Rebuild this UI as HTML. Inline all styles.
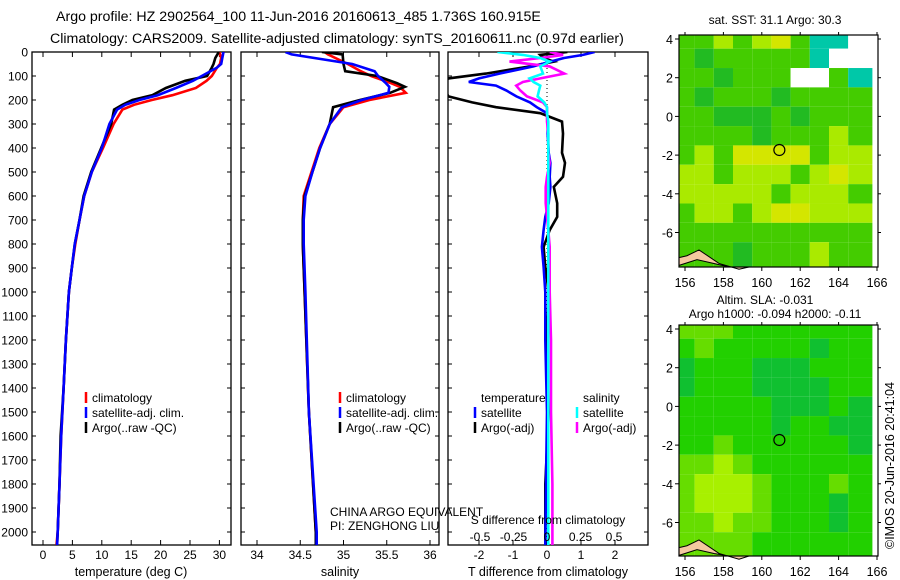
<!DOCTYPE html>
<html><head><meta charset="utf-8"><style>
body{margin:0;background:#fff;}
svg{display:block;font-family:"Liberation Sans",sans-serif;}
text{fill:#000;}
</style></head><body>
<svg id="fig" width="900" height="580" viewBox="0 0 900 580" xmlns="http://www.w3.org/2000/svg">
<rect width="900" height="580" fill="#fff"/>
<text x="56" y="21" font-size="14.2">Argo profile: HZ 2902564_100 11-Jun-2016 20160613_485 1.736S 160.915E</text>
<text x="50" y="43" font-size="14.2">Climatology: CARS2009. Satellite-adjusted climatology: synTS_20160611.nc (0.97d earlier)</text>
<defs>
<clipPath id="c1"><rect x="32" y="52" width="199" height="493"/></clipPath>
<clipPath id="c2"><rect x="241" y="52" width="198" height="493"/></clipPath>
<clipPath id="c3"><rect x="448" y="52" width="200" height="493"/></clipPath>
</defs>
<g id="p1"></g>
<g id="p2"></g>
<g id="p3"></g>
<g id="m1"></g>
<g id="m2"></g>
<text transform="translate(894,549) rotate(-90)" font-size="12.5">©IMOS 20-Jun-2016 20:41:04</text>
</svg>
<script>
// ---- data ----
const tDepth=[0,25,50,65,100,120,150,180,200,220,240,300,400,500,600,700,800,900,1000,1200,1400,1600,1800,2000,2054];
const tArgo=[29.9,29.3,29.0,28.7,27.9,24.2,20.9,18.6,15.2,13.5,12.1,11.6,9.9,8.2,6.9,6.2,5.4,4.9,4.4,3.9,3.5,3.0,2.8,2.5,2.4];
const tClim=[30.0,30.3,30.1,29.6,28.7,27.8,26.0,22.0,18.5,15.5,13.5,12.0,10.2,8.3,7.0,6.2,5.5,4.9,4.4,3.9,3.5,3.1,2.8,2.5,2.3];
const tSat=[30.7,30.5,30.3,29.6,27.0,25.5,22.6,19.5,16.4,14.0,12.6,11.3,10.0,8.3,7.0,6.2,5.4,4.9,4.4,3.9,3.5,3.1,2.8,2.5,2.4];
const sDepth=[0,10,50,80,100,130,145,170,200,230,300,400,500,600,700,800,1000,1500,2000,2054];
const sArgo=[34.75,34.99,35.0,35.02,35.39,35.62,35.71,35.54,35.19,34.88,34.84,34.73,34.64,34.55,34.53,34.53,34.55,34.6,34.68,34.68];
const sSat=[34.33,34.4,35.1,35.36,35.4,35.49,35.53,35.52,35.21,34.98,34.84,34.73,34.64,34.56,34.54,34.54,34.56,34.6,34.69,34.69];
const sClim=[34.78,34.82,35.05,35.2,35.32,35.55,35.65,35.72,35.3,35.0,34.84,34.72,34.63,34.54,34.53,34.53,34.55,34.6,34.68,34.68];
const dDepth=[0,12,25,40,60,90,110,125,140,160,185,210,230,255,290,340,420,462,520,562,630,687,742,812,895,1000,1200,1500,1800,2054];
const dTArgo=[0.6,-0.2,-0.1,0.2,-0.5,-1.8,-2.9,-3,-3,-3,-2.9,-2.2,-1.5,-0.2,0.44,0.47,0.44,0.53,0.47,0.2,0.3,0.3,0.08,-0.1,-0.05,0.05,0,0.05,-0.05,-0.05];
const dTSat=[1.4,1.06,0.5,0.1,-0.4,-1.4,-2.0,-2.3,-1.5,-1.2,-0.9,-0.5,-0.3,0,0.02,0.02,0.05,0.1,0.08,0.1,0.05,-0.05,-0.1,-0.15,-0.1,-0.05,-0.05,0,-0.03,-0.05];
const dSArgo=[0.02,0.12,-0.05,-0.28,0.02,0.13,-0.05,-0.18,-0.23,-0.2,-0.15,-0.03,0,0,0,0.01,0.01,0.02,0,-0.01,-0.01,0,0.01,0.02,0.02,0.02,0.03,0.03,0.04,0.04];
const dSSat=[-0.37,-0.18,-0.05,0.02,-0.05,-0.03,-0.13,-0.1,-0.05,-0.06,-0.07,-0.02,0,0,0.01,0.01,0.01,0.01,0.01,0.01,0.01,0.01,0.01,0.01,0.01,0.01,0.01,0.01,0.01,0.01];
const depthTicks=[0,100,200,300,400,500,600,700,800,900,1000,1100,1200,1300,1400,1500,1600,1700,1800,1900,2000];
const tTicks=[0,5,10,15,20,25,30];
const sTicks=[34,34.5,35,35.5,36];
const sTickLabels=["34","34.5","35","35.5","36"];
const dTTicks=[-2,-1,0,1,2];
const dSTicks=[-0.5,-0.25,0,0.25,0.5];
const dSTickLabels=["-0.5","-0.25","0","0.25","0.5"];
const lonTicks=[156,158,160,162,164,166];
const latTicks=[4,2,0,-2,-4,-6];
const sstRows=["ggygyYgccw","gdgggggcww","ggdgggwwgc","gdgggdgggg","ggdddgdggg","ggggdgggyg","gygYYYYgyy","yygyyygyYy","yyyyygyyyg","gyygyYYyyy","gggggggggg","gggdgggygg"];
const slaRows=["LLLGGGGGGG","GLGGGGGDGG","DGGGDDDGGG","DGGGDDDDGG","GGGGGDDDGD","GGGGGDGGDD","GGLGGGGGGD","LLYLGGGGGG","LYYYLGGGLG","LYYYLGGGDG","LLYLLGGGDG","LLLLGGGGGG"];
const argoLon=160.915, argoLat=-1.736;

// ---- helpers ----
const NS="http://www.w3.org/2000/svg";
function mk(parent,tag,attrs,txt){const e=document.createElementNS(NS,tag);for(const k in attrs)e.setAttribute(k,attrs[k]);if(txt!==undefined)e.textContent=txt;parent.appendChild(e);return e;}
const yD=d=>52+d*0.24;
const xT=t=>43+t*5.88;
const xS=s=>257+(s-34)*86.5;
const xDT=d=>547+d*34;
const xDS=s=>547+s*134;

function frame(g,x0,x1,xt,labels,ly,name){
  const r=mk(g,'rect',{x:x0,y:52,width:x1-x0,height:493,fill:'none',stroke:'#000','stroke-width':1.3});
  
  
  xt.forEach((v,i)=>{
    mk(g,'line',{x1:v,x2:v,y1:545,y2:540,stroke:'#000'});
    mk(g,'line',{x1:v,x2:v,y1:52,y2:57,stroke:'#000'});
    if(labels){const t=mk(g,'text',{x:v,y:ly,'font-size':12,'text-anchor':'middle'},labels[i]);
      
      }
  });
  depthTicks.forEach(d=>{mk(g,'line',{x1:x0,x2:x0+4,y1:yD(d),y2:yD(d),stroke:'#000'});mk(g,'line',{x1:x1,x2:x1-4,y1:yD(d),y2:yD(d),stroke:'#000'});});
}
function line(g,xs,ds,fx,color,clip,name){
  const pts=xs.map((v,i)=>fx(v).toFixed(1)+','+yD(ds[i]).toFixed(1)).join(' ');
  const p=mk(g,'polyline',{points:pts,fill:'none',stroke:color,'stroke-width':2.6,'clip-path':'url(#'+clip+')'});
  
  
}
function legend(g,x,y,items){
  items.forEach((it,i)=>{
    mk(g,'line',{x1:x,x2:x,y1:y+i*15-10,y2:y+i*15+1,stroke:it[1],'stroke-width':2.5});
    const t=mk(g,'text',{x:x+6,y:y+i*15,'font-size':12},it[0]);
    
    
  });
}

// depth axis labels
const p1=document.getElementById('p1');
depthTicks.forEach(d=>{const t=mk(p1,'text',{x:28,y:yD(d)+4.5,'font-size':12,'text-anchor':'end'},String(d));
  
  });

// panel 1
frame(p1,32,231,tTicks.map(xT),tTicks.map(String),559,'temperature');
line(p1,tClim,tDepth,xT,'#f00','c1','temp-climatology-line');
line(p1,tArgo,tDepth,xT,'#000','c1','temp-argo-line');
line(p1,tSat,tDepth,xT,'#00f','c1','temp-satellite-line');
legend(p1,86,402,[['climatology','#f00'],['satellite-adj. clim.','#00f'],['Argo(..raw -QC)','#000']]);
{const t=mk(p1,'text',{x:131,y:576,'font-size':12.5,'text-anchor':'middle'},'temperature (deg C)');}

// panel 2
const p2=document.getElementById('p2');
frame(p2,241,439,sTicks.map(xS),sTickLabels,559,'salinity');
line(p2,sClim,sDepth,xS,'#f00','c2','sal-climatology-line');
line(p2,sArgo,sDepth,xS,'#000','c2','sal-argo-line');
line(p2,sSat,sDepth,xS,'#00f','c2','sal-satellite-line');
legend(p2,340,402,[['climatology','#f00'],['satellite-adj. clim.','#00f'],['Argo(..raw -QC)','#000']]);
{const t=mk(p2,'text',{x:340,y:576,'font-size':12.5,'text-anchor':'middle'},'salinity');}
{const t=mk(p2,'text',{x:330,y:516,'font-size':12},'CHINA ARGO EQUIVALENT');}
{const t=mk(p2,'text',{x:330,y:530,'font-size':12},'PI: ZENGHONG LIU');}

// panel 3
const p3=document.getElementById('p3');
frame(p3,448,648,dTTicks.map(xDT),dTTicks.map(String),559,'t-difference');
mk(p3,'line',{x1:xDT(0),x2:xDT(0),y1:52,y2:545,stroke:'#000','stroke-dasharray':'1,3','stroke-width':1});
line(p3,dTArgo,dDepth,xDT,'#000','c3','tdiff-argo-line');
line(p3,dTSat,dDepth,xDT,'#00f','c3','tdiff-satellite-line');
line(p3,dSArgo,dDepth,xDS,'#f0f','c3','sdiff-argo-line');
line(p3,dSSat,dDepth,xDS,'#0ff','c3','sdiff-satellite-line');
{const t=mk(p3,'text',{x:481,y:402,'font-size':12},'temperature');}
{const t=mk(p3,'text',{x:583,y:402,'font-size':12},'salinity');}
legend(p3,475,417,[['satellite','#00f'],['Argo(-adj)','#000']]);
legend(p3,577,417,[['satellite','#0ff'],['Argo(-adj)','#f0f']]);
{const t=mk(p3,'text',{x:548,y:524,'font-size':12,'text-anchor':'middle'},'S difference from climatology');}
dSTicks.forEach((v,i)=>{const t=mk(p3,'text',{x:xDS(v),y:541,'font-size':12,'text-anchor':'middle'},dSTickLabels[i]);
  
  });
{const t=mk(p3,'text',{x:548,y:576,'font-size':12.5,'text-anchor':'middle'},'T difference from climatology');}

// maps
const sstCol={g:'#44cc00',d:'#22bb22',y:'#aaea00',Y:'#d4e600',c:'#00c8a8',w:'#ffffff'};
const slaCol={G:'#22d000',D:'#10c030',L:'#66dd00',Y:'#a8f000'};
function map(g,top,bot,rows,cols,title,titleY,name){
  const L=679,R=878;
  const lx=v=>685+(v-156)*19.2;
  const ly=v=>top+4+(4-v)*19.35;
  rows.forEach((row,ri)=>{
    [...row].forEach((ch,ci)=>{
      const x0=Math.max(L,lx(155.5+ci)),x1=Math.min(R,lx(156.5+ci)+(ci==9?5:0));
      const y0=Math.max(top,ly(4.5-ri)),y1=Math.min(bot,ly(3.5-ri)+(ri==11?5:0));
      const c=mk(g,'rect',{x:x0,y:y0,width:x1-x0,height:y1-y0,fill:cols[ch]});
      
      
    });
  });
  // land
  mk(g,'path',{d:`M${L} ${ly(-7.3)} L${L+8} ${ly(-7.2)} L${L+20} ${ly(-6.9)} L${L+40} ${ly(-7.6)} L${L+60} ${ly(-7.9)} L${L+70} ${bot} L${L+50} ${bot} L${L+35} ${ly(-7.6)} L${L+18} ${ly(-7.4)} L${L} ${ly(-7.7)} Z`,fill:'#f4c8a0',stroke:'#000','stroke-width':1});
  const circ=mk(g,'circle',{cx:lx(argoLon),cy:ly(argoLat),r:5.5,fill:'none',stroke:'#000','stroke-width':1.2});
  
  
  mk(g,'rect',{x:L,y:top,width:R-L,height:bot-top,fill:'none',stroke:'#000','stroke-width':1.2});
  lonTicks.forEach(v=>{mk(g,'line',{x1:lx(v),x2:lx(v),y1:bot,y2:bot+4,stroke:'#000'});mk(g,'line',{x1:lx(v),x2:lx(v),y1:top,y2:top-3,stroke:'#000'});
    const t=mk(g,'text',{x:lx(v),y:bot+20,'font-size':12.5,'text-anchor':'middle'},String(v));
    
    });
  latTicks.forEach(v=>{mk(g,'line',{x1:L-4,x2:L,y1:ly(v),y2:ly(v),stroke:'#000'});mk(g,'line',{x1:R,x2:R+3,y1:ly(v),y2:ly(v),stroke:'#000'});
    const t=mk(g,'text',{x:L-6,y:ly(v)+5,'font-size':12.5,'text-anchor':'end'},String(v));
    
    });
  title.forEach((s,i)=>{const t=mk(g,'text',{x:titleY[i][0],y:titleY[i][1],'font-size':12,'text-anchor':'middle'},s);
    
    });
}
map(document.getElementById('m1'),35,267,sstRows,sstCol,['sat. SST: 31.1  Argo: 30.3'],[[775,24]],'sst');
map(document.getElementById('m2'),325,556,slaRows,slaCol,['Altim. SLA: -0.031','Argo h1000: -0.094 h2000: -0.11'],[[765,304],[775,318]],'sla');
</script>
</body></html>
